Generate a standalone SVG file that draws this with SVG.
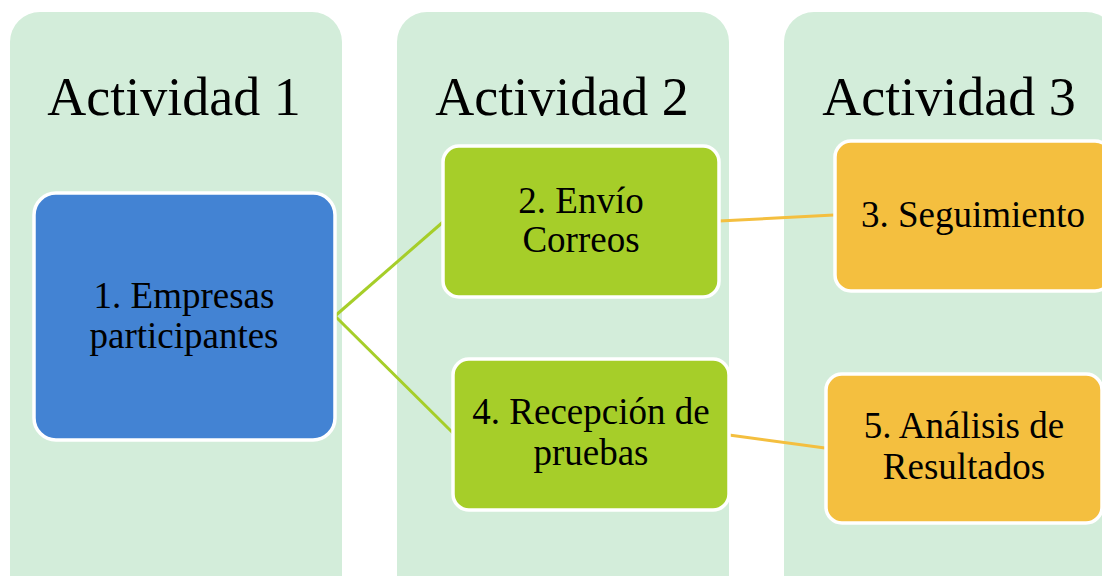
<svg xmlns="http://www.w3.org/2000/svg" width="1102" height="576" viewBox="0 0 1102 576">
<style>
.col{fill:#D3EDDA}
.hdr{font-family:"Liberation Serif",serif;font-size:54px;fill:#000;text-anchor:middle}
.t{font-family:"Liberation Serif",serif;font-size:37px;fill:#000;text-anchor:middle}
.n{stroke:#fff;stroke-width:3.5}
.blue{fill:#4383D3}
.green{fill:#A6CE29}
.orange{fill:#F4BF3F}
.cg{stroke:#A6CE29;stroke-width:3;fill:none}
.co{stroke:#F4BF3F;stroke-width:3;fill:none}
</style>
<rect width="1102" height="576" fill="#fff"/>
<g id="col1"><rect class="col" x="10" y="12" width="332" height="620" rx="30"/><text class="hdr" x="174" y="115">Actividad 1</text></g>
<g id="col2"><rect class="col" x="397" y="12" width="332" height="620" rx="30"/><text class="hdr" x="562" y="115">Actividad 2</text></g>
<g id="col3"><rect class="col" x="784" y="12" width="332" height="620" rx="30"/><text class="hdr" x="949" y="115">Actividad 3</text></g>
<g id="connectors">
<line class="cg" x1="335" y1="316" x2="443" y2="222"/>
<line class="cg" x1="335" y1="316" x2="453" y2="433"/>
<line class="co" x1="719" y1="221" x2="834" y2="215"/>
<line class="co" x1="729" y1="435" x2="825" y2="448"/>
</g>
<g id="node1"><rect class="n blue" x="34" y="193" width="301" height="247" rx="22"/><text class="t" x="184" y="308">1. Empresas</text><text class="t" x="184" y="348">participantes</text></g>
<g id="node2"><rect class="n green" x="443" y="146" width="276" height="151" rx="16"/><text class="t" x="581" y="213">2. Envío</text><text class="t" x="581" y="252">Correos</text></g>
<g id="node4"><rect class="n green" x="453" y="359" width="276" height="151" rx="16"/><text class="t" x="591" y="424">4. Recepción de</text><text class="t" x="591" y="465">pruebas</text></g>
<g id="node3"><rect class="n orange" x="835" y="141" width="276" height="150" rx="16"/><text class="t" x="973" y="227">3. Seguimiento</text></g>
<g id="node5"><rect class="n orange" x="826" y="374" width="276" height="149" rx="16"/><text class="t" x="964" y="438">5. Análisis de</text><text class="t" x="964" y="479">Resultados</text></g>
</svg>
